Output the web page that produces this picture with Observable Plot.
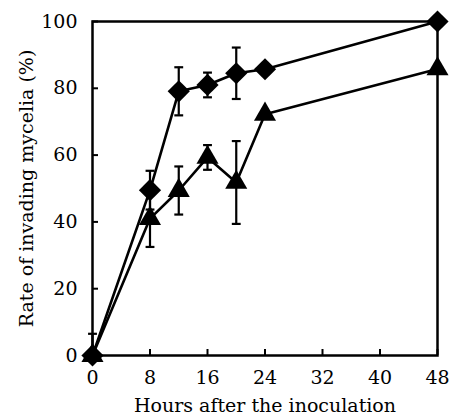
<!DOCTYPE html>
<html><head><meta charset="utf-8">
<script src="https://cdn.jsdelivr.net/npm/d3@7"></script>
<script src="https://cdn.jsdelivr.net/npm/@observablehq/plot@0.6"></script>
<style>body{margin:0;background:#fff}</style>
</head><body><div id="chart"></div>
<script>
const hours = [0, 8, 12, 16, 20, 24, 48];
const diamondValues = [0, 49.5, 79.1, 81, 84.5, 85.7, 100];
const diamondErrors = [6.5, 5.8, 7.2, 3.7, 7.7, 0, 0];
const triangleValues = [0, 41, 49.4, 59.3, 51.8, 72.2, 85.8];
const triangleErrors = [0, 8.5, 7.2, 3.7, 12.4, 0, 0];
const xTicks = [0, 8, 16, 24, 32, 40, 48];
const yTicks = [0, 20, 40, 60, 80, 100];

const rows = (vals, errs, name) => hours.map((h, i) => ({
  h, v: vals[i], lo: Math.max(0, vals[i] - errs[i]), hi: vals[i] + errs[i], e: errs[i], name
}));
const A = rows(diamondValues, diamondErrors, "A");
const B = rows(triangleValues, triangleErrors, "B");
const errRows = [...A, ...B].filter(d => d.e > 0);

const cap = {draw(ctx, size) { const w = Math.sqrt(size) / 2; ctx.moveTo(-w, 0); ctx.lineTo(w, 0); }};

const chart = Plot.plot({
  width: 450, height: 414,
  marginLeft: 92, marginRight: 13, marginTop: 21, marginBottom: 59,
  style: {fontFamily: "DejaVu Serif", fontSize: "19px", color: "black", background: "white"},
  x: {domain: [0, 48]},
  y: {domain: [0, 100]},
  marks: [
    Plot.axisX(xTicks, {tickSize: -6, tickPadding: 21, strokeWidth: 2, fontSize: 19, label: "Hours after the inoculation", labelAnchor: "center", labelOffset: 56, labelArrow: "none"}),
    Plot.axisY(yTicks, {tickSize: -6, tickPadding: 21, strokeWidth: 2, fontSize: 19, label: "Rate of invading mycelia (%)", labelAnchor: "center", labelOffset: 73, labelArrow: "none"}),
    Plot.frame({strokeWidth: 2.5}),
    Plot.line(A, {x: "h", y: "v", stroke: "black", strokeWidth: 2.6}),
    Plot.line(B, {x: "h", y: "v", stroke: "black", strokeWidth: 2.6}),
    Plot.ruleX(errRows, {x: "h", y1: "lo", y2: "hi", stroke: "black", strokeWidth: 2.2}),
    Plot.dot(errRows, {x: "h", y: "hi", symbol: cap, r: 5, stroke: "black", strokeWidth: 2.2, fill: "none"}),
    Plot.dot(errRows.filter(d => d.lo > 0), {x: "h", y: "lo", symbol: cap, r: 5, stroke: "black", strokeWidth: 2.2, fill: "none"}),
    Plot.dot(A, {x: "h", y: "v", symbol: "diamond2", r: 10, fill: "black", stroke: "none"}),
    Plot.dot(B, {x: "h", y: "v", symbol: "triangle", r: 8.2, fill: "black", stroke: "none"})
  ]
});
document.getElementById("chart").appendChild(chart);
</script>
</body></html>
